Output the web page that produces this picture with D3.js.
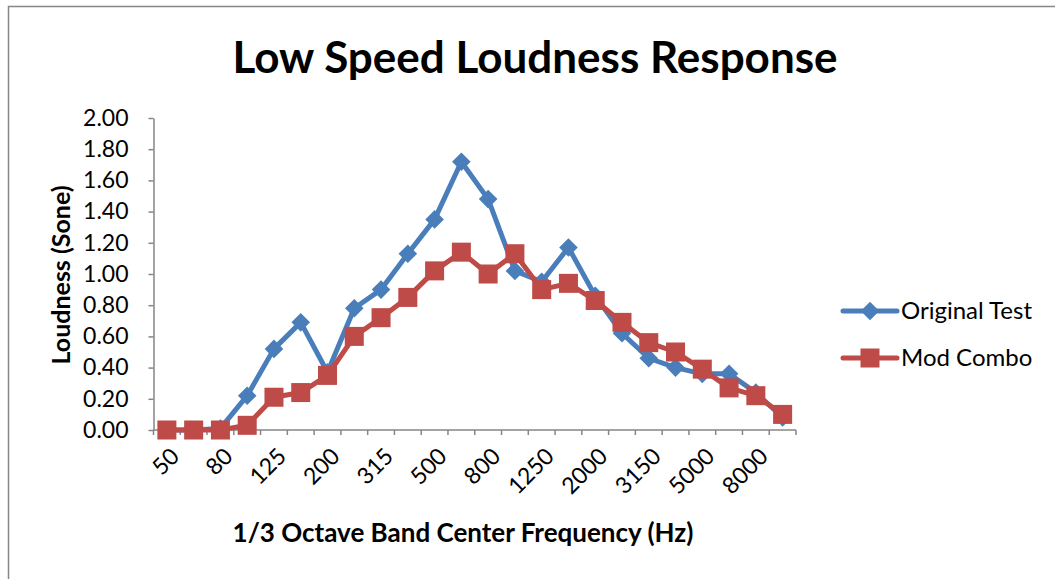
<!DOCTYPE html>
<html>
<head>
<meta charset="utf-8">
<script src="https://cdn.jsdelivr.net/npm/d3@7"></script>
<style>
  body { margin: 0; background: #fff; }
  text { font-family: Lato, "Open Sans", sans-serif; fill: #000; }
</style>
</head>
<body>
<div id="chart"></div>
<script>
// 1/3 octave band centres
const bands = ["50", "63", "80", "100", "125", "160", "200", "250", "315", "400", "500", "630",
  "800", "1000", "1250", "1600", "2000", "2500", "3150", "4000", "5000", "6300", "8000", "10000"];
const originalTest = [0, 0, 0.01, 0.22, 0.52, 0.69, 0.37, 0.78, 0.90, 1.13, 1.35, 1.72,
  1.48, 1.02, 0.95, 1.17, 0.86, 0.62, 0.46, 0.40, 0.36, 0.36, 0.24, 0.08];
const modCombo = [0, 0, 0, 0.03, 0.21, 0.24, 0.35, 0.60, 0.72, 0.85, 1.02, 1.14,
  1.00, 1.13, 0.90, 0.94, 0.83, 0.69, 0.56, 0.50, 0.39, 0.27, 0.22, 0.10];
const yTicks = [0, 0.2, 0.4, 0.6, 0.8, 1.0, 1.2, 1.4, 1.6, 1.8, 2.0];
const xLabels = ["50", "80", "125", "200", "315", "500", "800", "1250", "2000", "3150", "5000", "8000"];

const W = 1055, H = 579;
const plot = {left: 153.5, right: 796, top: 118, bottom: 430};
const blue = "#4A7EBB", red = "#BE4B48", axisGrey = "#868686";

const svg = d3.select("#chart").append("svg")
  .attr("width", W).attr("height", H);

// outer chart border (top and left edges visible)
svg.append("path")
  .attr("d", `M8.5,${H} L8.5,6.5 L${W},6.5`)
  .attr("fill", "none").attr("stroke", axisGrey).attr("stroke-width", 1.5);

const x = d3.scaleBand().domain(bands).range([plot.left, plot.right]).padding(0);
const y = d3.scaleLinear().domain([0, 2]).range([plot.bottom, plot.top]);
const cx = d => x(d) + x.bandwidth() / 2;

// title
svg.append("text")
  .attr("x", 535).attr("y", 73)
  .attr("text-anchor", "middle")
  .style("font-size", "44px").style("font-weight", "bold")
  .text("Low Speed Loudness Response");

// y axis
const yAxis = svg.append("g")
  .attr("transform", `translate(${plot.left},0)`)
  .call(d3.axisLeft(y).tickValues(yTicks).tickFormat(d3.format(".2f")).tickSize(5).tickSizeOuter(0));
yAxis.select(".domain").attr("stroke", axisGrey).attr("stroke-width", 1.5);
yAxis.selectAll(".tick line").attr("stroke", axisGrey).attr("stroke-width", 1.5);
yAxis.selectAll(".tick text").attr("x", -25).style("font-size", "23px").style("font-family", "Lato, sans-serif");

// x axis line + ticks at band boundaries
svg.append("line")
  .attr("x1", plot.left).attr("x2", plot.right)
  .attr("y1", plot.bottom).attr("y2", plot.bottom)
  .attr("stroke", axisGrey).attr("stroke-width", 1.5);
const bounds = bands.map(b => x(b)).concat([x(bands[bands.length - 1]) + x.bandwidth()]);
svg.append("g").selectAll("line")
  .data(bounds)
  .join("line")
  .attr("x1", d => d).attr("x2", d => d)
  .attr("y1", plot.bottom).attr("y2", plot.bottom + 5)
  .attr("stroke", axisGrey).attr("stroke-width", 1.5);

// x labels, rotated
svg.append("g").selectAll("text")
  .data(xLabels)
  .join("text")
  .attr("transform", d => `translate(${cx(d) + 8},${plot.bottom + 22}) rotate(-45)`)
  .attr("text-anchor", "end")
  .attr("dy", "0.35em")
  .style("font-size", "23px")
  .text(d => d);

// axis titles
svg.append("text")
  .attr("x", 463).attr("y", 542)
  .attr("text-anchor", "middle")
  .style("font-size", "26px").style("font-weight", "bold")
  .text("1/3 Octave Band Center Frequency (Hz)");

svg.append("text")
  .attr("transform", "translate(70,275) rotate(-90)")
  .attr("text-anchor", "middle")
  .style("font-size", "25px").style("font-weight", "bold")
  .text("Loudness (Sone)");

// series
const line = d3.line().x((d, i) => cx(bands[i])).y(d => y(d));

svg.append("path").datum(originalTest)
  .attr("d", line).attr("fill", "none")
  .attr("stroke", blue).attr("stroke-width", 5).attr("stroke-linejoin", "round");
svg.append("g").selectAll("path")
  .data(originalTest)
  .join("path")
  .attr("d", d3.symbol(d3.symbolDiamond2, 220))
  .attr("transform", (d, i) => `translate(${cx(bands[i])},${y(d)})`)
  .attr("fill", blue);

svg.append("path").datum(modCombo)
  .attr("d", line).attr("fill", "none")
  .attr("stroke", red).attr("stroke-width", 5).attr("stroke-linejoin", "round");
svg.append("g").selectAll("rect")
  .data(modCombo)
  .join("rect")
  .attr("x", (d, i) => cx(bands[i]) - 9.5).attr("y", d => y(d) - 9.5)
  .attr("width", 19).attr("height", 19)
  .attr("fill", red);

// legend
const legend = [
  {name: "Original Test", color: blue, shape: "diamond"},
  {name: "Mod Combo", color: red, shape: "square"}
];
const lg = svg.append("g").selectAll("g")
  .data(legend)
  .join("g")
  .attr("transform", (d, i) => `translate(843,${311 + i * 47})`);
lg.append("line")
  .attr("x1", 0).attr("x2", 54)
  .attr("stroke", d => d.color).attr("stroke-width", 5).attr("stroke-linecap", "round");
lg.filter(d => d.shape === "diamond").append("path")
  .attr("d", d3.symbol(d3.symbolDiamond2, 220))
  .attr("transform", "translate(27,0)")
  .attr("fill", d => d.color);
lg.filter(d => d.shape === "square").append("rect")
  .attr("x", 17.5).attr("y", -9.5).attr("width", 19).attr("height", 19)
  .attr("fill", d => d.color);
lg.append("text")
  .attr("x", 58).attr("dy", "0.35em")
  .style("font-size", "24px")
  .text(d => d.name);
</script>
</body>
</html>
